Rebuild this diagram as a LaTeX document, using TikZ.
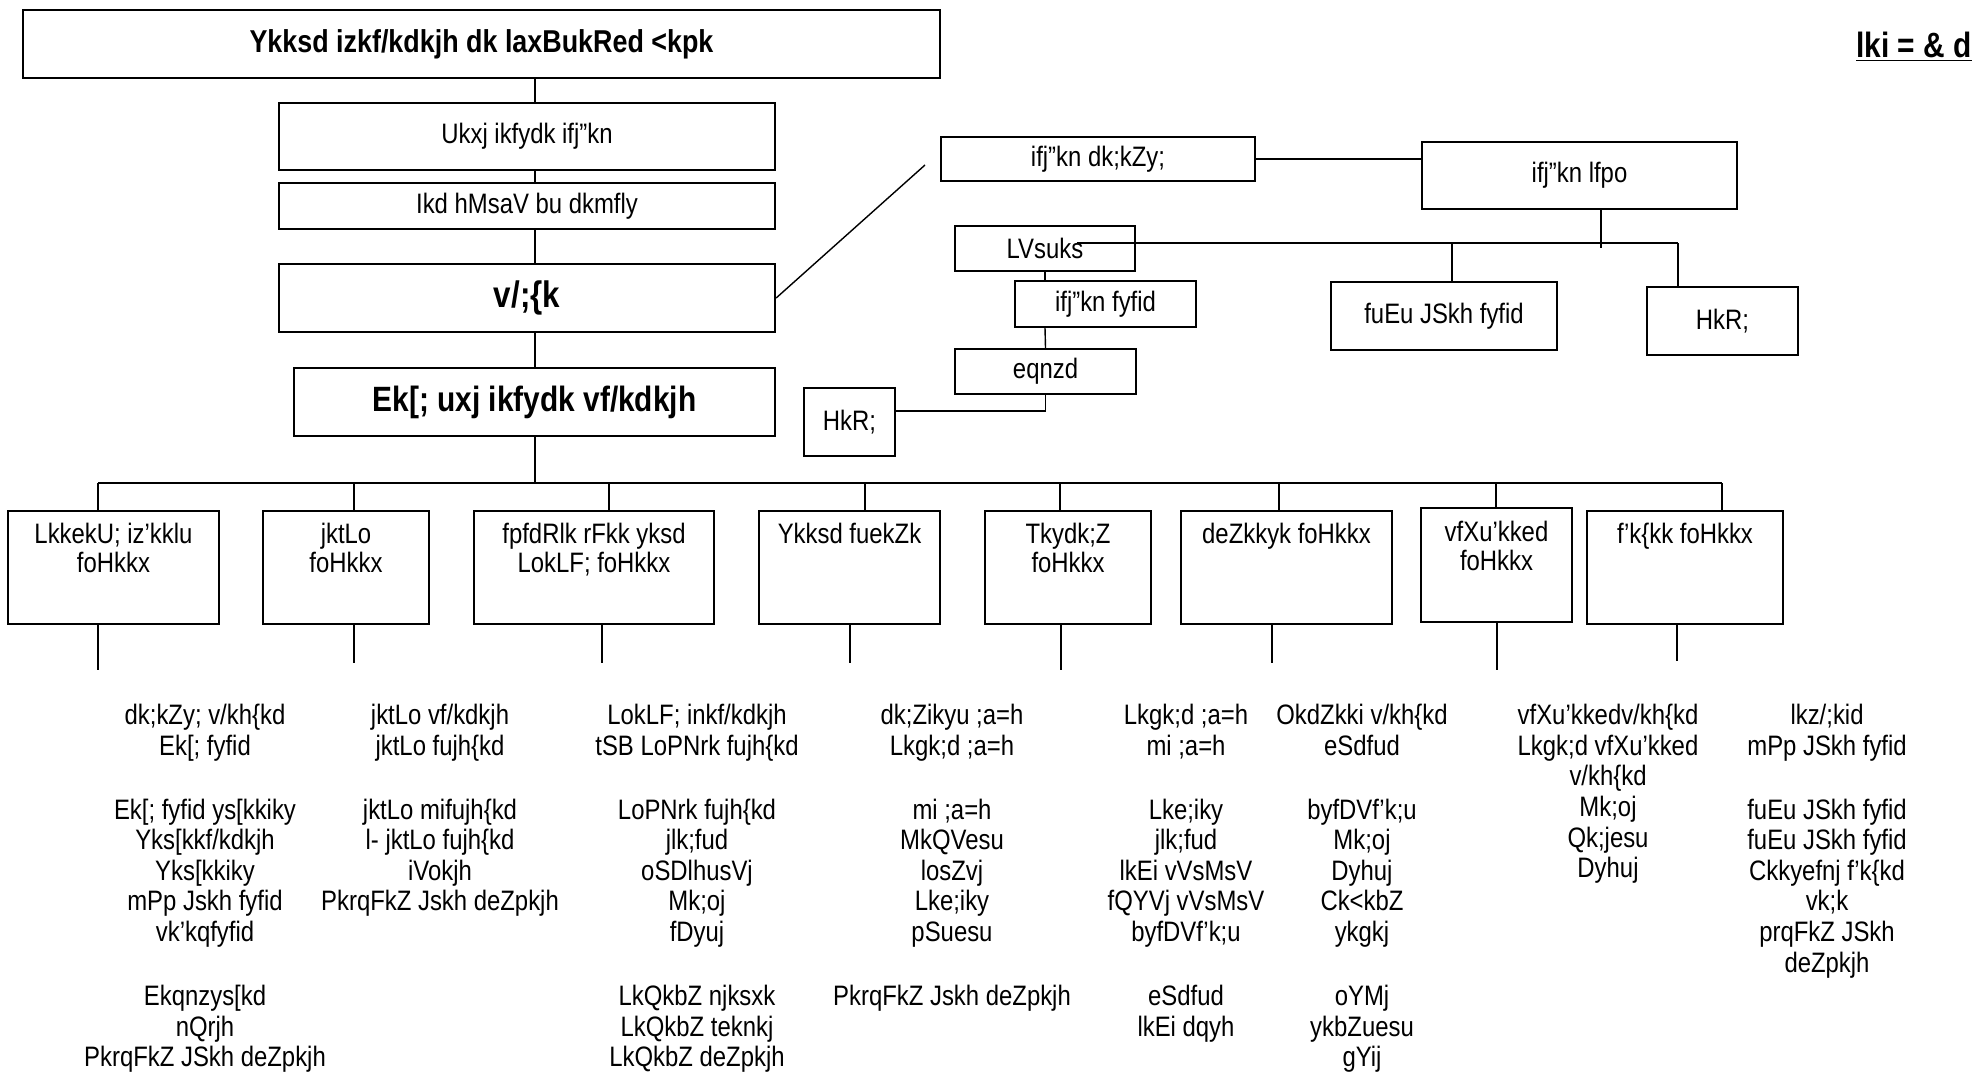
\documentclass[tikz,border=0pt]{standalone}
\usepackage{fontspec}
\setmainfont{Liberation Sans}[FakeStretch=0.85]
\newlength\pxu
\setlength\pxu{0.02cm}
% text of a department box, set from the top
\newcommand\cattxt[2]{\parbox[c][113\pxu][t]{#1\pxu}{\centering\vspace*{7pt}#2}}
\begin{document}
\begin{tikzpicture}[x=0.02cm,y=-0.02cm,
  box/.style={draw,line width=1.3pt,inner sep=0pt,align=center,font=\fontsize{16}{16.6}\selectfont},
  wh/.style 2 args={minimum width=#1*0.02cm,minimum height=#2*0.02cm},
  link/.style={line width=0.8pt},
  lst/.style={anchor=north,align=center,inner sep=0pt,font=\fontsize{16}{17.4}\selectfont}]
\useasboundingbox (0,0) rectangle (1976,1078);
% upper chain
\node[box,wh={917}{68},font=\bfseries\fontsize{18}{22}\selectfont] (title) at (481.5,44) {Ykksd izkf/kdkjh dk laxBukRed <kpk};
\node[font=\bfseries\fontsize{20}{22}\selectfont,anchor=east,inner sep=0pt] (patra) at (1972,47) {\underline{lki = \& d}};
\node[box,wh={496}{67}] (parishad) at (527,136.5) {Ukxj ikfydk ifj"kn};
\node[box,wh={496}{46}] (pic) at (527,206) {Ikd hMsaV bu dkmfly};
\node[box,wh={496}{68},font=\bfseries\fontsize{21}{24}\selectfont] (adhyaksh) at (527,298) {v/;\{k};
\node[box,wh={481}{68},font=\bfseries\fontsize{20}{22}\selectfont] (mno) at (534.5,402) {Ek[; uxj ikfydk vf/kdkjh};
\coordinate (spine) at (535,0);
\draw[link] (title.south -| spine) -- (parishad.north -| spine);
\draw[link] (parishad.south -| spine) -- (pic.north -| spine);
\draw[link] (pic.south -| spine) -- (adhyaksh.north -| spine);
\draw[link] (adhyaksh.south -| spine) -- (mno.north -| spine);
% parishad office
\node[box,wh={314}{44}] (karyalay) at (1098,159) {ifj"kn dk;kZy;};
\node[box,wh={315}{67}] (sachiv) at (1579.5,175.5) {ifj"kn lfpo};
\node[box,wh={180}{45}] (steno) at (1045,248.5) {LVsuks};
\node[box,wh={181}{46}] (lipik) at (1105.5,304) {ifj"kn fyfid};
\node[box,wh={181}{45}] (mudrak) at (1045.5,371.5) {eqnzd};
\node[box,wh={91}{68}] (hr2) at (849.5,422) {HkR;};
\node[box,wh={226}{68}] (nimn) at (1444,316) {fuEu JSkh fyfid};
\node[box,wh={151}{68}] (hr1) at (1722.5,321) {HkR;};
\coordinate (diagEnd) at (925,165);
\coordinate (busL) at (1077,243);
\coordinate (busR) at (1678,243);
\draw[link] (adhyaksh.east) -- (diagEnd);
\draw[link] (karyalay.east) -- (sachiv.west |- karyalay.east);
\draw[link] (sachiv.south -| 1601,0) -- (1601,248);
\draw[link] (busL) -- (busR);
\draw[link] (1452,243) -- (nimn.north -| 1452,0);
\draw[link] (busR) -- (hr1.north -| busR);
\draw[link] (steno.south) -- (lipik.north -| steno.south);
\draw[link] (lipik.south -| steno.south) -- (mudrak.north);
\draw[link] (mudrak.south) |- (hr2.east |- 0,411);
% departments
\coordinate (busA) at (98,483);
\coordinate (busB) at (1722,483);
\draw[link] (mno.south -| spine) -- (spine |- busA);
\draw[link] (busA) -- (busB);
\node[box,wh={211}{113}] (c1) at (113.5,567.5) {\cattxt{211}{LkkekU; iz'kklu\\foHkkx}};
\node[box,wh={166}{113}] (c2) at (346,567.5) {\cattxt{166}{jktLo\\foHkkx}};
\node[box,wh={240}{113}] (c3) at (594,567.5) {\cattxt{240}{fpfdRlk rFkk yksd\\LokLF; foHkkx}};
\node[box,wh={181}{113}] (c4) at (849.5,567.5) {\cattxt{181}{Ykksd fuekZk}};
\node[box,wh={166}{113}] (c5) at (1068,567.5) {\cattxt{166}{Tkydk;Z\\foHkkx}};
\node[box,wh={211}{113}] (c6) at (1286.5,567.5) {\cattxt{211}{deZkkyk foHkkx}};
\node[box,wh={151}{114}] (c7) at (1496.5,565) {\cattxt{151}{vfXu'kked\\foHkkx}};
\node[box,wh={196}{113}] (c8) at (1685,567.5) {\cattxt{196}{f'k\{kk foHkkx}};
\foreach \n/\x in {c1/98,c2/354,c3/609,c4/865,c5/1060,c6/1279,c7/1496,c8/1722}
  \draw[link] (\x,483) -- (\n.north -| \x,0);
\foreach \n/\x/\y in {c1/98/670,c2/354/663,c3/602/663,c4/850/663,c5/1061/670,c6/1272/663,c7/1497/670,c8/1677/661}
  \draw[link] (\n.south -| \x,0) -- (\x,\y);
% staff lists
\node[lst] (l1) at (205,704) {dk;kZy; v/kh\{kd\\Ek[; fyfid\\[19pt]Ek[; fyfid ys[kkiky\\Yks[kkf/kdkjh\\Yks[kkiky\\mPp Jskh fyfid\\vk'kqfyfid\\[19pt]Ekqnzys[kd\\nQrjh\\PkrqFkZ JSkh deZpkjh};
\node[lst] (l2) at (440,704) {jktLo vf/kdkjh\\jktLo fujh\{kd\\[19pt]jktLo mifujh\{kd\\l- jktLo fujh\{kd\\iVokjh\\PkrqFkZ Jskh deZpkjh};
\node[lst] (l3) at (697,704) {LokLF; inkf/kdkjh\\tSB LoPNrk fujh\{kd\\[19pt]LoPNrk fujh\{kd\\jlk;fud\\oSDlhusVj\\Mk;oj\\fDyuj\\[19pt]LkQkbZ njksxk\\LkQkbZ teknkj\\LkQkbZ deZpkjh};
\node[lst] (l4) at (952,704) {dk;Zikyu ;a=h\\Lkgk;d ;a=h\\[19pt]mi ;a=h\\MkQVesu\\losZvj\\Lke;iky\\pSuesu\\[19pt]PkrqFkZ Jskh deZpkjh};
\node[lst] (l5) at (1186,704) {Lkgk;d ;a=h\\mi ;a=h\\[19pt]Lke;iky\\jlk;fud\\lkEi vVsMsV\\fQYVj vVsMsV\\byfDVf'k;u\\[19pt]eSdfud\\lkEi dqyh};
\node[lst] (l6) at (1362,704) {OkdZkki v/kh\{kd\\eSdfud\\[19pt]byfDVf'k;u\\Mk;oj\\Dyhuj\\Ck<kbZ\\ykgkj\\[19pt]oYMj\\ykbZuesu\\gYij};
\node[lst] (l7) at (1608,704) {vfXu'kkedv/kh\{kd\\Lkgk;d vfXu'kked\\v/kh\{kd\\Mk;oj\\Qk;jesu\\Dyhuj};
\node[lst] (l8) at (1827,704) {lkz/;kid\\mPp JSkh fyfid\\[19pt]fuEu JSkh fyfid\\fuEu JSkh fyfid\\Ckkyefnj f'k\{kd\\vk;k\\prqFkZ JSkh\\deZpkjh};
\end{tikzpicture}
\end{document}
